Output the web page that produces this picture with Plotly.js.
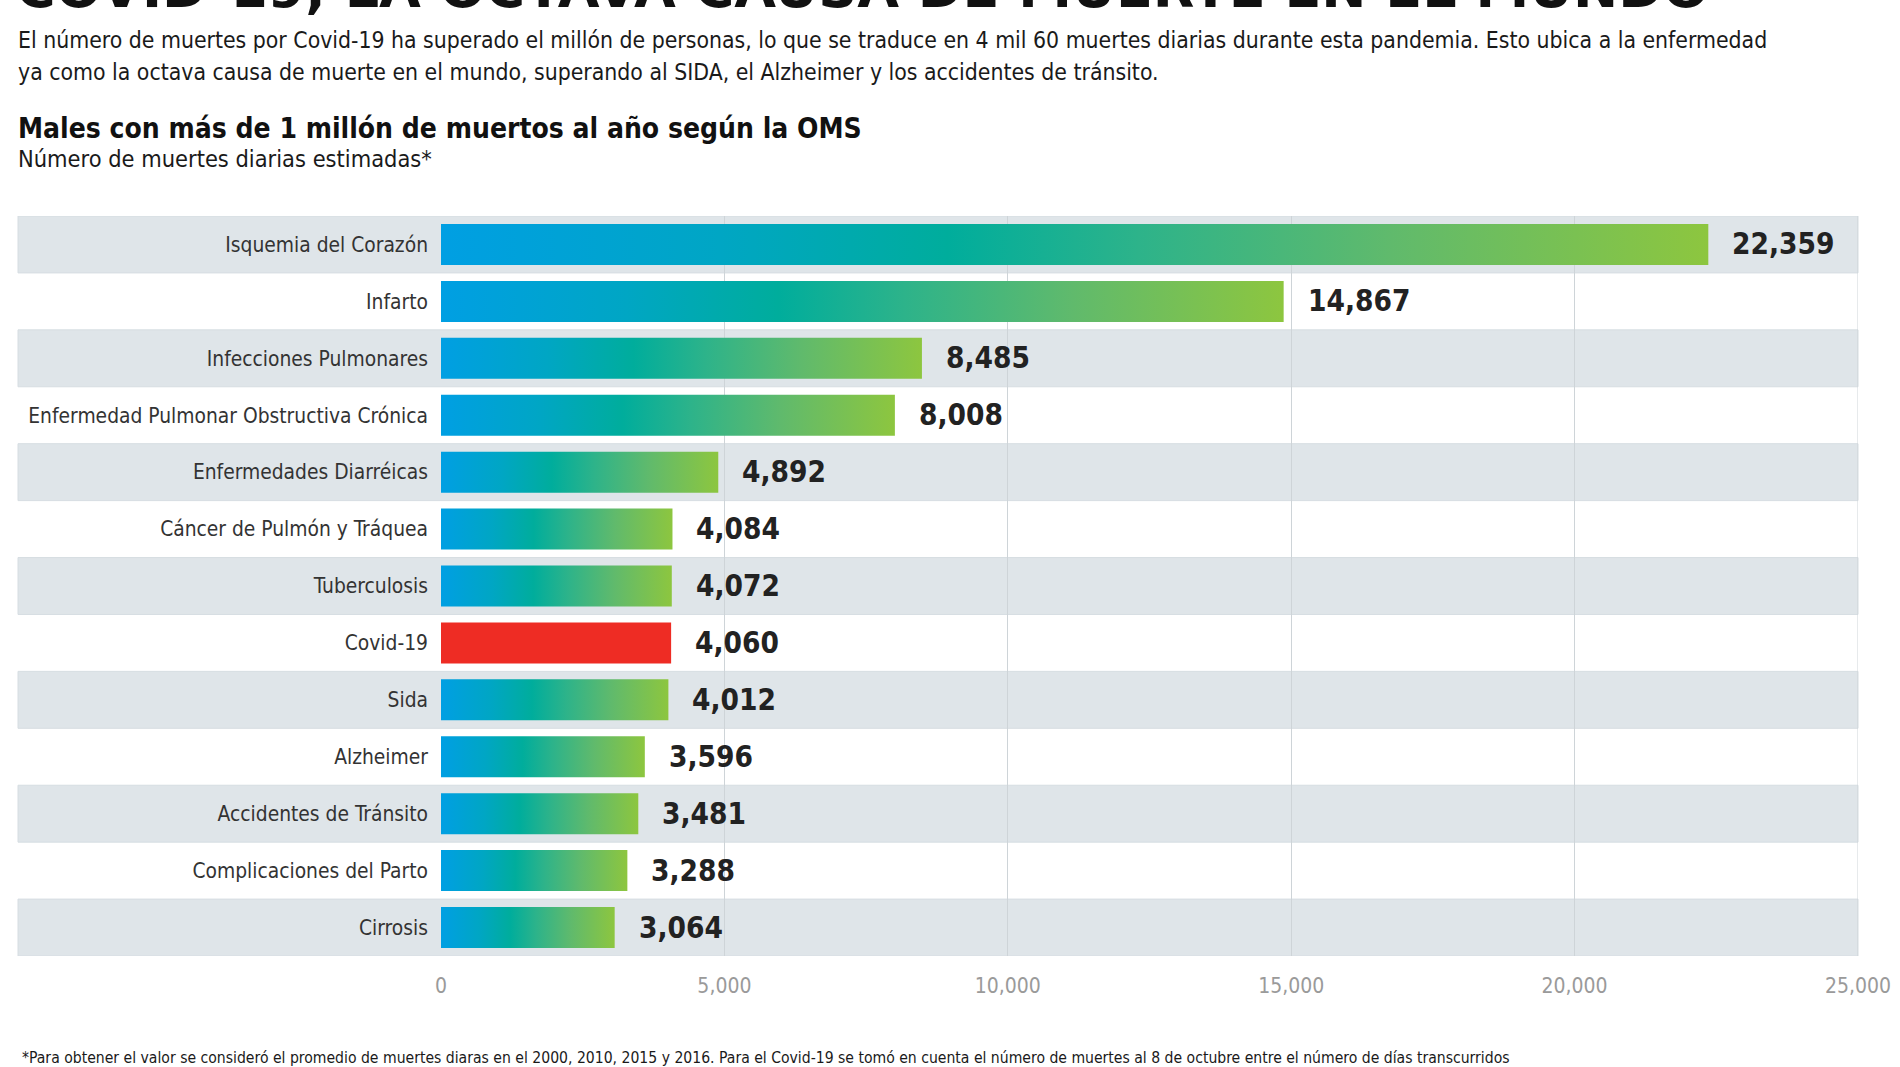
<!DOCTYPE html>
<html><head><meta charset="utf-8">
<script src="https://cdn.plot.ly/plotly-3.0.1.min.js"></script>
<style>html,body{margin:0;padding:0;background:#fff;overflow:hidden}</style>
</head><body>
<div id="chart" style="width:1900px;height:1067px"></div>
<script>
// ---- data ----
const categories = [
  'Isquemia del Corazón',
  'Infarto',
  'Infecciones Pulmonares',
  'Enfermedad Pulmonar Obstructiva Crónica',
  'Enfermedades Diarréicas',
  'Cáncer de Pulmón y Tráquea',
  'Tuberculosis',
  'Covid-19',
  'Sida',
  'Alzheimer',
  'Accidentes de Tránsito',
  'Complicaciones del Parto',
  'Cirrosis'
];
const deaths = [22359, 14867, 8485, 8008, 4892, 4084, 4072, 4060, 4012, 3596, 3481, 3288, 3064];
const highlightCategory = 'Covid-19';
const tickValues = [0, 5000, 10000, 15000, 20000, 25000];
const tickLabels = ['0', '5,000', '10,000', '15,000', '20,000', '25,000'];
const valueLabels = ['22,359', '14,867', '8,485', '8,008', '4,892', '4,084', '4,072', '4,060', '4,012', '3,596', '3,481', '3,288', '3,064'];

const headline = 'COVID-19, LA OCTAVA CAUSA DE MUERTE EN EL MUNDO';
const introLine1 = 'El número de muertes por Covid-19 ha superado el millón de personas, lo que se traduce en 4 mil 60 muertes diarias durante esta pandemia. Esto ubica a la enfermedad';
const introLine2 = 'ya como la octava causa de muerte en el mundo, superando al SIDA, el Alzheimer y los accidentes de tránsito.';
const chartTitle = 'Males con más de 1 millón de muertos al año según la OMS';
const chartSubtitle = 'Número de muertes diarias estimadas*';
const footnote = '*Para obtener el valor se consideró el promedio de muertes diaras en el 2000, 2010, 2015 y 2016. Para el Covid-19 se tomó en cuenta el número de muertes al 8 de octubre entre el número de días transcurridos';

// ---- styling ----
const W = 1900, H = 1067;
const M = {l: 441, r: 42, t: 216, b: 111};
const plotW = W - M.l - M.r, plotH = H - M.t - M.b;
const px = p => (p - M.l) / plotW;        // page pixel -> paper x
const py = p => (H - M.b - p) / plotH;    // page pixel -> paper y
const FONT = "'DejaVu Sans Condensed', 'Liberation Sans Narrow', 'DejaVu Sans', sans-serif";
const RED = '#ee2c24';
const BASE = '#22a8b0';
const ROWBG = '#dfe5e9';
const GRID = '#ced4d8';

const barColors = categories.map(c => c === highlightCategory ? RED : BASE);

const shapes = categories.map((c, i) => i % 2 === 0 ? ({
  type: 'rect', layer: 'below', xref: 'paper', yref: 'y',
  x0: px(18), x1: 1, y0: i - 0.5, y1: i + 0.5,
  fillcolor: ROWBG, line: {width: 1, color: '#d6dde2'}
}) : null).filter(Boolean);
shapes.push({
  type: 'line', layer: 'between', xref: 'x', yref: 'paper',
  x0: tickValues[tickValues.length - 1], x1: tickValues[tickValues.length - 1], y0: 0, y1: 1,
  line: {width: 1, color: GRID}
});

const annotations = [];
categories.forEach((c, i) => {
  annotations.push({
    x: deaths[i], y: c, xref: 'x', yref: 'y', text: valueLabels[i],
    xanchor: 'left', yanchor: 'middle', xshift: 22, showarrow: false,
    font: {family: FONT, size: 29.5, color: '#222222', weight: 'bold'}
  });
});
const textAnn = (text, x, y, size, opts) => Object.assign({
  text, x: px(x), y: py(y), xref: 'paper', yref: 'paper',
  xanchor: 'left', yanchor: 'middle', showarrow: false, align: 'left',
  font: {family: FONT, size, color: '#1a1a1a'}
}, opts || {});
annotations.push(textAnn(headline, 14, 22, 54, {yanchor: 'bottom',
  font: {family: "'DejaVu Sans', sans-serif", size: 54, color: '#111111', weight: 'bold'}}));
annotations.push(textAnn(introLine1, 16, 40, 22.8));
annotations.push(textAnn(introLine2, 16, 72.5, 22.8));
annotations.push(textAnn(chartTitle, 16, 128, 28, {font: {family: FONT, size: 28, color: '#111111', weight: 'bold'}}));
annotations.push(textAnn(chartSubtitle, 16, 158.5, 23.4));
annotations.push(textAnn(footnote, 20, 1057.5, 15.6));

const trace = {
  type: 'bar', orientation: 'h',
  x: deaths, y: categories,
  width: 0.72,
  marker: {color: barColors, line: {width: 0}},
  hoverinfo: 'none'
};

const layout = {
  width: W, height: H,
  margin: M,
  paper_bgcolor: '#ffffff', plot_bgcolor: 'rgba(0,0,0,0)',
  showlegend: false,
  xaxis: {
    range: [0, 25000], tickvals: tickValues, ticktext: tickLabels,
    showgrid: true, gridcolor: GRID, gridwidth: 1,
    zeroline: false, showline: false, ticks: '',
    ticklabelstandoff: 15, ticklabeloverflow: 'allow',
    tickfont: {family: FONT, size: 21, color: '#9a9a9a'},
    fixedrange: true
  },
  yaxis: {
    type: 'category', range: [12.5, -0.5],
    showgrid: false, zeroline: false, showline: false, ticks: '',
    ticklabelstandoff: 12,
    tickfont: {family: FONT, size: 20.8, color: '#333333'},
    fixedrange: true
  },
  shapes, annotations
};

Plotly.newPlot('chart', [trace], layout, {displayModeBar: false, staticPlot: true}).then(gd => {
  const svg = gd.querySelector('svg.main-svg');
  const ns = 'http://www.w3.org/2000/svg';
  let defs = svg.querySelector('defs');
  if (!defs) { defs = document.createElementNS(ns, 'defs'); svg.insertBefore(defs, svg.firstChild); }
  const grad = document.createElementNS(ns, 'linearGradient');
  grad.setAttribute('id', 'barGrad');
  grad.setAttribute('x1', '0'); grad.setAttribute('y1', '0');
  grad.setAttribute('x2', '1'); grad.setAttribute('y2', '0');
  [['0', '#009fe3'], ['0.22', '#00a6c4'], ['0.4', '#00ad9c'], ['0.55', '#2db38a'], ['0.75', '#60ba6c'], ['1', '#8dc63f']].forEach(([o, c]) => {
    const s = document.createElementNS(ns, 'stop');
    s.setAttribute('offset', o); s.setAttribute('stop-color', c);
    grad.appendChild(s);
  });
  defs.appendChild(grad);
  const paths = gd.querySelectorAll('.barlayer .point path');
  paths.forEach((p, i) => {
    if (categories[i] !== highlightCategory) p.style.fill = 'url(#barGrad)';
  });
});
</script>
</body></html>
